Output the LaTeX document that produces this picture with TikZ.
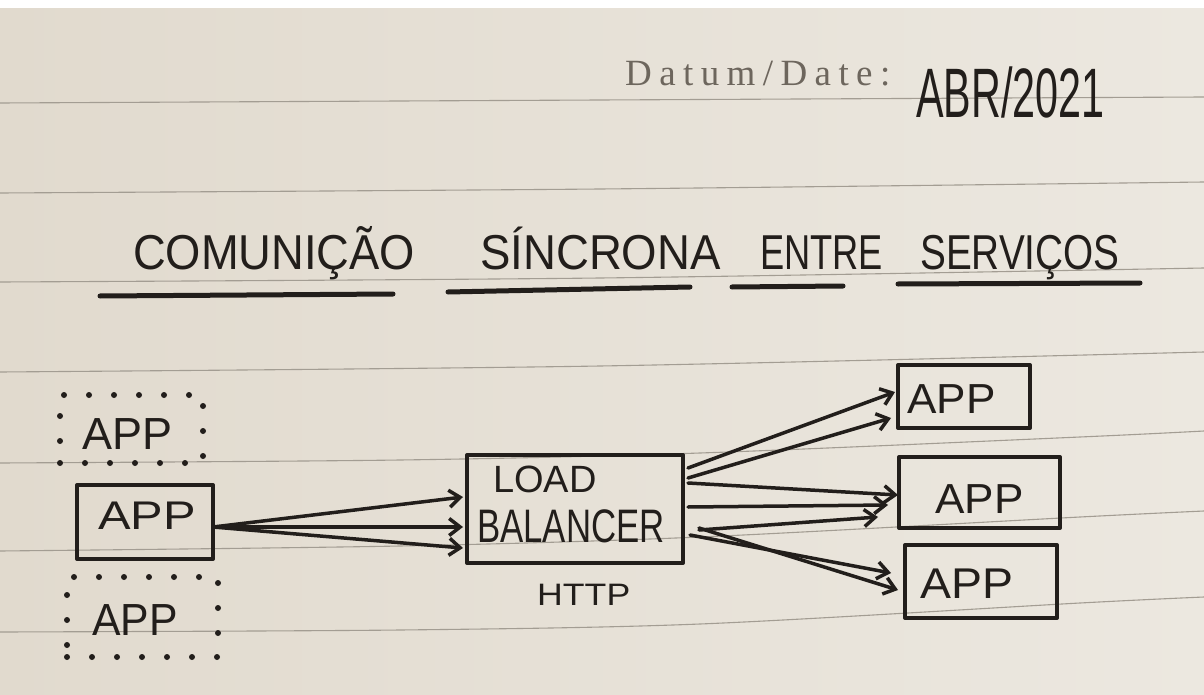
\documentclass[tikz,border=0pt]{standalone}
\usepackage{fontspec}
\setmainfont{Liberation Sans}
\newfontfamily\datumfont[LetterSpace=20]{Liberation Serif}
\newfontfamily\handfont{Liberation Sans}
\usetikzlibrary{arrows.meta,calc}
\definecolor{paperL}{HTML}{E1DACE}
\definecolor{paperR}{HTML}{ECE8E0}
\definecolor{rule}{HTML}{A39D93}
\definecolor{inkc}{HTML}{221E1B}
\definecolor{printc}{HTML}{6D665D}
\newcommand{\hw}[3]{{\handfont\fontsize{#1}{#1}\selectfont\scalebox{#2}[1]{#3}}}
\tikzset{
  solidbox/.style={draw=inkc, line width=4pt, line cap=round, line join=round, rectangle, inner sep=0pt},
  dotbox/.style={draw=inkc, line width=6pt, line cap=round, dash pattern=on 0pt off 25pt, rectangle, inner sep=0pt},
  hand/.style={inner sep=0pt, anchor=base west, text=inkc},
  uline/.style={draw=inkc, line width=5pt, line cap=round},
  arr/.style={draw=inkc, line width=3.5pt, line cap=round, line join=round, -{Straight Barb[length=11pt,width=17pt]}},
  paperline/.style={draw=rule, line width=1.1pt}
}
\begin{document}
\begin{tikzpicture}[x=1pt,y=-1pt]
\useasboundingbox (0,0) rectangle (1204,695);
\clip (0,0) rectangle (1204,695);
% paper
\shade[left color=paperL, right color=paperR] (0,0) rectangle (1204,695);
\fill[white] (0,0) rectangle (1204,8);
% ruled lines
\draw[paperline] plot[smooth] coordinates {(0,103) (600,100) (1204,97)};
\draw[paperline] plot[smooth] coordinates {(0,193) (600,189) (1204,182)};
\draw[paperline] plot[smooth] coordinates {(0,282) (600,278) (1204,268)};
\draw[paperline] plot[smooth] coordinates {(0,372) (600,366) (1204,352)};
\draw[paperline] plot[smooth] coordinates {(0,463) (400,460) (700,453) (1080,437) (1204,431)};
\draw[paperline] plot[smooth] coordinates {(0,551) (400,546) (700,537) (1080,517) (1204,511)};
\draw[paperline] plot[smooth] coordinates {(0,632) (400,630) (700,624) (1080,603) (1204,597)};

% header
\node[inner sep=0pt, anchor=base west, text=printc] (datum) at (625,86) {\datumfont\fontsize{37}{37}\selectfont Datum/Date:};
\node[hand] (date) at (916,118) {\hw{70}{0.59}{ABR/2021}};

% title
\node[hand] (w1) at (133,269) {\hw{49}{0.925}{COMUNIÇÃO}};
\node[hand] (w2) at (480,269) {\hw{49}{0.93}{SÍNCRONA}};
\node[hand] (w3) at (760,269) {\hw{49}{0.74}{ENTRE}};
\node[hand] (w4) at (920,269) {\hw{49}{0.79}{SERVIÇOS}};
\draw[uline] (100,296) -- (393,294);
\draw[uline] (448,292) -- (690,287);
\draw[uline] (732,287) -- (843,286);
\draw[uline] (898,284) -- (1140,283);

% left apps
\node[dotbox, minimum width=143pt, minimum height=68pt] (appL1) at (131.5,429) {};
\node[solidbox, minimum width=136pt, minimum height=74pt] (appL2) at (145,522) {};
\node[dotbox, minimum width=151pt, minimum height=80pt] (appL3) at (142.5,617) {};
\node[hand] (tL1) at (82,449) {\hw{45}{1}{APP}};
\node[hand] (tL2) at (98,529) {\hw{40}{1.22}{APP}};
\node[hand] (tL3) at (92,635) {\hw{45}{0.95}{APP}};

% load balancer
\node[solidbox, minimum width=216pt, minimum height=108pt] (lb) at (575,509) {};
\node[hand] (tlb1) at (493,492) {\hw{38}{1}{LOAD}};
\node[hand] (tlb2) at (477,542) {\hw{47}{0.74}{BALANCER}};
\node[hand] (http) at (537,605) {\hw{31}{1.15}{HTTP}};

% right apps
\node[solidbox, minimum width=132pt, minimum height=63pt] (appR1) at (964,396.5) {};
\node[solidbox, minimum width=161pt, minimum height=71pt] (appR2) at (979.5,492.5) {};
\node[solidbox, minimum width=152pt, minimum height=73pt] (appR3) at (981,581.5) {};
\node[hand] (tR1) at (907,413) {\hw{42}{1.05}{APP}};
\node[hand] (tR2) at (935,513) {\hw{42}{1.05}{APP}};
\node[hand] (tR3) at (920,598) {\hw{43}{1.08}{APP}};

% arrows app -> load balancer
\draw[arr] ([xshift=-2pt,yshift=-5pt]appL2.east) -- ([xshift=-2pt,yshift=12pt]lb.west);
\draw[arr] ([xshift=-2pt,yshift=-5pt]appL2.east) -- ([xshift=-2pt,yshift=-18pt]lb.west);
\draw[arr] ([xshift=-2pt,yshift=-5pt]appL2.east) -- ([xshift=-2pt,yshift=-39pt]lb.west);

% arrows load balancer -> apps
\draw[arr] ([xshift=3pt,yshift=41pt]lb.east) -- ([xshift=-1pt,yshift=4.5pt]appR1.west);
\draw[arr] ([xshift=3pt,yshift=31pt]lb.east) -- ([xshift=-5pt,yshift=-21.5pt]appR1.west);
\draw[arr] ([xshift=3pt,yshift=26pt]lb.east) -- ([xshift=1pt,yshift=-2.5pt]appR2.west);
\draw[arr] ([xshift=3pt,yshift=2pt]lb.east) -- ([xshift=-9pt,yshift=-12.5pt]appR2.west);
\draw[arr] ([xshift=14pt,yshift=-21pt]lb.east) -- ([xshift=-19pt,yshift=-24.5pt]appR2.west);
\draw[arr] ([xshift=14pt,yshift=-19pt]lb.east) -- ([xshift=-5pt,yshift=-8.5pt]appR3.west);
\draw[arr] ([xshift=5pt,yshift=-26pt]lb.east) -- ([xshift=-12pt,yshift=8.5pt]appR3.west);
\end{tikzpicture}
\end{document}
